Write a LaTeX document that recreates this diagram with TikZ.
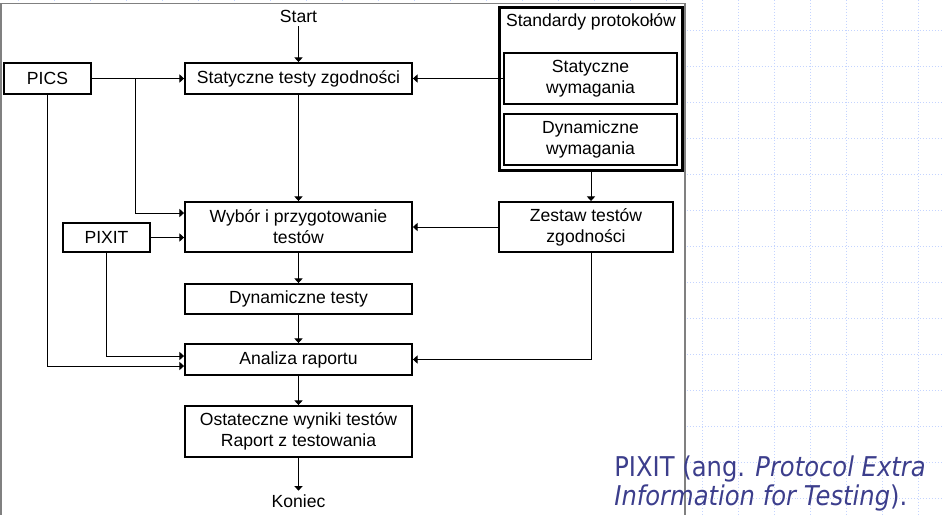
\documentclass[tikz,border=0pt]{standalone}
\usepackage{fontspec}
\setmainfont{Liberation Sans}
\newfontfamily\notefont[FakeStretch=0.89]{DejaVu Sans}
\usepackage{tikz}
\usetikzlibrary{arrows.meta}
\definecolor{gridblue}{RGB}{196,212,255}
\definecolor{panelgrey}{RGB}{128,128,128}
\definecolor{noteblue}{RGB}{60,62,140}

\begin{document}
\begin{tikzpicture}[x=0.02cm,y=-0.02cm,
	box/.style={draw,line width=1.1pt,minimum width=4.54cm,minimum height=0.62cm,inner sep=0pt,align=center,font=\fontsize{10}{12}\selectfont},
	arr/.style={-{Triangle[length=2.6pt,width=4.6pt]},line width=0.55pt},
	lbl/.style={inner sep=2pt,font=\fontsize{10}{12}\selectfont}]
	\useasboundingbox (0,0) rectangle (943,514);
	
	% tlo
	\foreach \gx in {18,54,...,930} \draw[gridblue,line width=0.5pt,dash pattern=on 0.5pt off 1.2pt] (\gx,0) -- (\gx,514);
	\foreach \gy in {30,66,...,514} \draw[gridblue,line width=0.5pt,dash pattern=on 0.5pt off 1.2pt] (0,\gy) -- (943,\gy);
	\fill[white] (0,3) rectangle (685,520);
	\draw[panelgrey,line width=1pt] (0.8,520) -- (0.8,3.5) -- (685,3.5) -- (685,520);
	
	% glowna kolumna
	\node[lbl] (start) at (298.5,16) {Start};
	\node[box] (static) at (298.5,78.5) {Statyczne testy zgodności};
	\node[box,minimum height=1cm] (wybor) at (298.5,227) {Wybór i przygotowanie\\testów};
	\node[box,minimum height=0.6cm] (dyn) at (298.5,299) {Dynamiczne testy};
	\node[box] (analiza) at (298.5,359.5) {Analiza raportu};
	\node[box,minimum height=1.02cm] (wyniki) at (298.5,431.5) {Ostateczne wyniki testów\\Raport z testowania};
	\node[lbl] (koniec) at (298.5,501) {Koniec};
	
	% wejscia
	\node[box,minimum width=1.74cm] (pics) at (47.5,78.5) {PICS};
	\node[box,minimum width=1.74cm,minimum height=0.58cm] (pixit) at (106.5,237.5) {PIXIT};
	
	% standardy
	\node[box,minimum width=3.68cm,minimum height=3.28cm,line width=1.7pt] (std) at (591,89) {};
	\node[lbl] (stdtitle) at (591,22) {Standardy protokołów};
	\node[box,minimum width=3.46cm,minimum height=1.02cm] (wymstat) at (590.5,78.5) {Statyczne\\wymagania};
	\node[box,minimum width=3.46cm,minimum height=1.02cm] (wymdyn) at (590.5,139.5) {Dynamiczne\\wymagania};
	\node[box,minimum width=3.48cm,minimum height=1cm] (zestaw) at (586,227) {Zestaw testów\\zgodności};
	
	\draw[arr] (start) -- (static);
	\draw[arr] (static) -- (wybor);
	\draw[arr] (wybor) -- (dyn);
	\draw[arr] (dyn) -- (analiza);
	\draw[arr] (analiza) -- (wyniki);
	\draw[arr] (wyniki) -- (koniec);
	
	\draw[arr] (pics) -- (static);
	\coordinate (split) at (135,78.5);
	\draw[arr] (split) |- ([yshift=0.28cm]wybor.west);
	\draw[arr] (pics) |- ([yshift=-0.13cm]analiza.west);
	\draw[arr] (pixit) -- (pixit -| wybor.west);
	\draw[arr] (pixit) |- ([yshift=0.07cm]analiza.west);
	
	\draw[arr] (wymstat) -- (static);
	\draw[arr] (std) -- (std.south |- zestaw.north);
	\draw[arr] (zestaw) -- (wybor);
	\draw[arr] (zestaw.south -| std.south) |- (analiza.east);
	
	% przypis
	\node[anchor=north west,inner sep=0pt,text=noteblue,align=left,font=\notefont\fontsize{15.5}{17}\selectfont] (note) at (614,455) {PIXIT (ang. \textit{Protocol Extra}\\\textit{Information for Testing}).};
\end{tikzpicture}
\end{document}
